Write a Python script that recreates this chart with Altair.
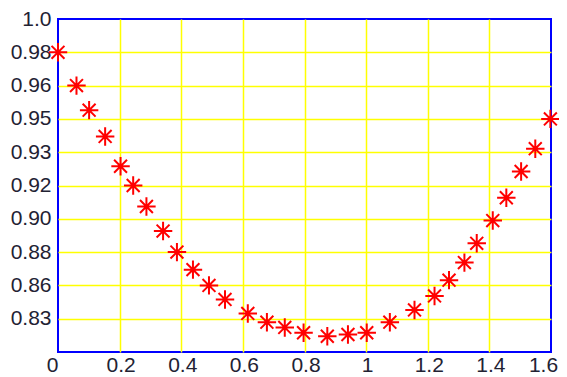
import altair as alt
import pandas as pd

# data
x_vals = [0.0, 0.060, 0.101, 0.153, 0.203, 0.244, 0.287, 0.341, 0.386, 0.438,
          0.490, 0.542, 0.616, 0.678, 0.736, 0.797, 0.874, 0.941, 1.002, 1.077,
          1.157, 1.222, 1.269, 1.319, 1.359, 1.411, 1.455, 1.503, 1.549, 1.598]
y_vals = [0.981, 0.962, 0.948, 0.933, 0.916, 0.905, 0.893, 0.879, 0.867, 0.857,
          0.848, 0.840, 0.832, 0.827, 0.824, 0.821, 0.819, 0.820, 0.821, 0.827,
          0.834, 0.842, 0.851, 0.861, 0.872, 0.885, 0.898, 0.913, 0.926, 0.943]

x_ticks = [0, 0.2, 0.4, 0.6, 0.8, 1.0, 1.2, 1.4, 1.6]
x_labels = ["0", "0.2", "0.4", "0.6", "0.8", "1", "1.2", "1.4", "1.6"]
y_ticks = [0.829, 0.848, 0.867, 0.886, 0.905, 0.924, 0.943, 0.962, 0.981, 1.0]
y_labels = ["0.83", "0.86", "0.88", "0.90", "0.92", "0.93", "0.95", "0.96", "0.98", "1.0"]
y_min = 0.81
y_step = 0.019

df = pd.DataFrame({"x": x_vals, "y": y_vals})

ylab_expr = "[" + ",".join(f"'{s}'" for s in y_labels) + "][round((datum.value - %g) / %g) - 1]" % (y_min, y_step)
xlab_expr = "[" + ",".join(f"'{s}'" for s in x_labels) + "][round(datum.value / 0.2)]"

star = "M-1,0L1,0M0,-1L0,1M-0.7,-0.7L0.7,0.7M-0.7,0.7L0.7,-0.7"

font = "Liberation Sans"

chart = alt.Chart(df).mark_point(
    shape=star, filled=False, stroke="#ff0000", strokeWidth=2, size=340, opacity=1
).encode(
    x=alt.X("x:Q", scale=alt.Scale(domain=[0, 1.6], nice=False, zero=False),
            axis=alt.Axis(values=x_ticks, labelExpr=xlab_expr, title=None,
                          ticks=False, domain=False, grid=True,
                          gridColor="#ffff00", gridWidth=1.5,
                          gridOpacity={"condition": {"test": "datum.value < 0.01 || datum.value > 1.59", "value": 0}, "value": 1},
                          labelFlush=False, labelOverlap=False,
                          labelOffset={"condition": [
                              {"test": "datum.value < 0.01", "value": -6},
                              {"test": "datum.value > 1.59", "value": -8}], "value": 1},
                          labelFont=font, labelFontSize=21, labelColor="#222233",
                          labelPadding=2, labelAngle=0)),
    y=alt.Y("y:Q", scale=alt.Scale(domain=[y_min, 1.0], nice=False, zero=False),
            axis=alt.Axis(values=y_ticks, labelExpr=ylab_expr, title=None,
                          ticks=False, domain=False, grid=True,
                          gridColor="#ffff00", gridWidth=1.5,
                          gridOpacity={"condition": {"test": "datum.value > 0.999", "value": 0}, "value": 1},
                          labelFlush=False, labelOverlap=False,
                          labelFont=font, labelFontSize=21, labelColor="#222233",
                          labelPadding=7)),
).properties(
    width=493, height=333,
    background="white",
    autosize=alt.AutoSizeParams(type="none"),
    padding={"left": 50, "top": 11, "right": 8, "bottom": 22},
).configure_view(
    stroke="#0000ff", strokeWidth=2
)

chart.save("out.html", embed_options={"renderer": "svg", "actions": False})
